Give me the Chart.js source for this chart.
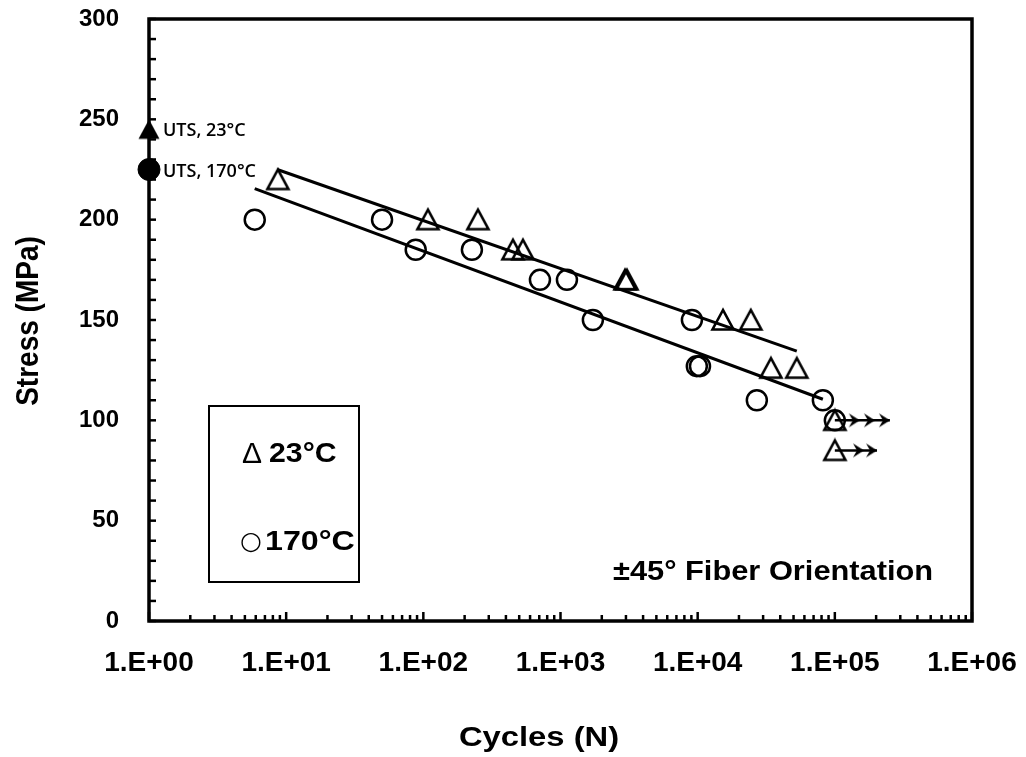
<!DOCTYPE html>
<html>
<head>
<meta charset="utf-8">
<script src="https://cdn.jsdelivr.net/npm/chart.js@4.4.1/dist/chart.umd.min.js"></script>
<style>
  body { margin: 0; background: #fff; }
  canvas { display: block; }
</style>
</head>
<body>
<canvas id="snChart" width="1026" height="757"></canvas>
<script>
// 23°C fatigue results (cycles to failure, stress in MPa)
const cycles23 = [8.7, 108, 250, 450, 532, 2950, 3050, 15300, 24400, 34200, 52800, 100000, 100000];
const stress23 = [220, 200, 200, 185, 185, 170, 170, 150, 150, 126, 126, 100, 85];

// 170°C fatigue results
const cycles170 = [5.9, 50, 88, 226, 708, 1114, 1722, 9080, 9860, 10400, 27000, 81800, 100000];
const stress170 = [200, 200, 185, 185, 170, 170, 150, 150, 127, 127, 110, 110, 100];

// trend line end points
const fitCycles23 = [8.6, 52800];
const fitStress23 = [225, 134.5];
const fitCycles170 = [5.9, 81800];
const fitStress170 = [215.5, 110.5];

// ultimate tensile strength, shown at N = 1
const utsCycles = [1, 1];
const utsStress = [245, 225];
const utsLabels = ['UTS, 23°C', 'UTS, 170°C'];

// run-outs (arrow line with arrowheads)
const runout100Cycles = [100000, 152000, 196000, 252000];
const runout100Stress = [100, 100, 100, 100];
const runout85Cycles = [100000, 163000, 203000];
const runout85Stress = [85, 85, 85];

const legendNames = ['23°C', '170°C'];
const noteText = '±45° Fiber Orientation';
const xTitle = 'Cycles (N)';
const yTitle = 'Stress (MPa)';

// x tick decades (10^0 .. 10^6) and y axis range
const xDecades = [0, 1, 2, 3, 4, 5, 6];
const yMin = 0, yMax = 300, yStep = 10, yLabelStep = 50;

const FONT = '"Liberation Sans", Arial, sans-serif';

// zip two arrays into {x, y} points
function toPoints(xs, ys) {
    return xs.map((x, i) => ({ x: x, y: ys[i] }));
}

// marker images, drawn so the box centre sits on the data point
function makeTriangle(filled) {
    const c = document.createElement('canvas');
    c.width = 26; c.height = 26;
    const g = c.getContext('2d');
    g.beginPath();
    g.moveTo(13, 3);
    g.lineTo(2.5, 22.5);
    g.lineTo(23.5, 22.5);
    g.closePath();
    if (filled) {
        g.fillStyle = '#000';
        g.fill();
    } else {
        g.lineWidth = 2.6;
        g.lineJoin = 'miter';
        g.strokeStyle = '#000';
        g.stroke();
    }
    return c;
}

function makeArrowHead() {
    const c = document.createElement('canvas');
    c.width = 24; c.height = 24;
    const g = c.getContext('2d');
    g.beginPath();
    g.moveTo(12, 12);
    g.lineTo(1, 5);
    g.lineTo(5, 12);
    g.lineTo(1, 19);
    g.closePath();
    g.fillStyle = '#000';
    g.fill();
    return c;
}

const openTriangle = makeTriangle(false);
const solidTriangle = makeTriangle(true);
const arrowHead = makeArrowHead();

// text drawn a little wider than the font, like the source figure
function wideText(ctx, txt, x, y, sx, rot) {
    ctx.save();
    ctx.translate(x, y);
    if (rot) ctx.rotate(rot);
    if (rot) ctx.scale(1, sx); else ctx.scale(sx, 1);
    ctx.fillText(txt, 0, 0);
    ctx.restore();
}

// frame, inward tick marks, axis titles and the free text on the chart
const decorPlugin = {
    id: 'decor',
    afterDraw(chart) {
        const { ctx, chartArea: a, scales: { x, y } } = chart;
        ctx.save();
        ctx.strokeStyle = '#000';
        ctx.fillStyle = '#000';

        ctx.lineWidth = 2.5;
        y.ticks.forEach(t => {
            const py = y.getPixelForValue(t.value);
            ctx.beginPath();
            ctx.moveTo(a.left, py);
            ctx.lineTo(a.left + 7, py);
            ctx.stroke();
        });
        x.ticks.forEach(t => {
            const px = x.getPixelForValue(t.value);
            const len = t.major ? 9 : 6;
            ctx.beginPath();
            ctx.moveTo(px, a.bottom);
            ctx.lineTo(px, a.bottom - len);
            ctx.stroke();
        });

        ctx.lineWidth = 3.5;
        ctx.strokeRect(a.left, a.top, a.right - a.left, a.bottom - a.top);

        // axis titles
        ctx.font = 'bold 28px ' + FONT;
        ctx.textAlign = 'center';
        ctx.textBaseline = 'middle';
        wideText(ctx, xTitle, 539, 738, 1.17, 0);
        wideText(ctx, yTitle, 29, 321, 1.15, -Math.PI / 2);

        // UTS labels next to the markers on the stress axis
        ctx.font = '600 18px "Open Sans", sans-serif';
        ctx.textAlign = 'left';
        utsLabels.forEach((txt, i) => {
            ctx.fillText(txt, x.getPixelForValue(utsCycles[i]) + 14, y.getPixelForValue(utsStress[i]) + 2);
        });

        // legend box
        ctx.lineWidth = 2;
        ctx.strokeRect(209, 406, 150, 176);
        ctx.font = '30px ' + FONT;
        ctx.fillText('Δ', 242, 455);
        ctx.font = '25px "DejaVu Sans", sans-serif';
        ctx.fillText('○', 240, 542);
        ctx.font = 'bold 28px ' + FONT;
        wideText(ctx, legendNames[0], 269, 454, 1.08, 0);
        wideText(ctx, legendNames[1], 265, 542, 1.15, 0);

        // fiber orientation note
        ctx.font = 'bold 28px ' + FONT;
        wideText(ctx, noteText, 613, 572, 1.1, 0);
        ctx.restore();
    }
};

const ctx = document.getElementById('snChart').getContext('2d');

const datasets = [
    {
        label: legendNames[0],
        data: toPoints(cycles23, stress23),
        pointStyle: openTriangle,
        pointRadius: 10,
        showLine: false
    },
    {
        label: legendNames[1],
        data: toPoints(cycles170, stress170),
        pointStyle: 'circle',
        pointRadius: 10,
        pointBorderWidth: 2.5,
        pointBorderColor: '#000',
        pointBackgroundColor: 'rgba(0,0,0,0)',
        showLine: false
    },
    {
        label: 'fit 23',
        data: toPoints(fitCycles23, fitStress23),
        borderColor: '#000',
        borderWidth: 3,
        pointRadius: 0,
        showLine: true
    },
    {
        label: 'fit 170',
        data: toPoints(fitCycles170, fitStress170),
        borderColor: '#000',
        borderWidth: 3,
        pointRadius: 0,
        showLine: true
    },
    {
        label: 'UTS',
        data: toPoints(utsCycles, utsStress),
        pointStyle: [solidTriangle, 'circle'],
        pointRadius: 11,
        pointBackgroundColor: '#000',
        pointBorderColor: '#000',
        showLine: false,
        clip: false
    },
    {
        label: 'runout 100',
        data: toPoints(runout100Cycles, runout100Stress),
        borderColor: '#000',
        borderWidth: 2.5,
        pointStyle: arrowHead,
        pointRadius: [0, 5, 5, 5],
        showLine: true
    },
    {
        label: 'runout 85',
        data: toPoints(runout85Cycles, runout85Stress),
        borderColor: '#000',
        borderWidth: 2.5,
        pointStyle: arrowHead,
        pointRadius: [0, 5, 5],
        showLine: true
    }
];

new Chart(ctx, {
    type: 'scatter',
    data: { datasets: datasets },
    options: {
        responsive: false,
        animation: false,
        devicePixelRatio: 1,
        layout: { padding: { top: 19, right: 54, left: 0, bottom: 0 } },
        plugins: {
            legend: { display: false },
            tooltip: { enabled: false }
        },
        scales: {
            x: {
                type: 'logarithmic',
                min: 1,
                max: 1e6,
                afterBuildTicks: scale => {
                    const ticks = [];
                    xDecades.forEach(d => {
                        for (let s = 1; s <= 9; s++) {
                            if (d === 6 && s > 1) break;
                            ticks.push({ value: s * Math.pow(10, d), major: s === 1 });
                        }
                    });
                    scale.ticks = ticks;
                },
                afterFit: scale => {
                    scale.height = 136;
                    scale.paddingLeft = 0;
                    scale.paddingRight = 0;
                },
                grid: { display: false, drawTicks: false },
                border: { display: false },
                ticks: {
                    autoSkip: false,
                    maxRotation: 0,
                    padding: 25,
                    color: '#000',
                    font: { family: FONT, size: 28, weight: 'bold' },
                    callback: (v, i, ticks) => {
                        if (!ticks[i].major) return '';
                        return '1.E+' + String(Math.round(Math.log10(v))).padStart(2, '0');
                    }
                },
                title: { display: false, text: xTitle }
            },
            y: {
                min: yMin,
                max: yMax,
                afterFit: scale => {
                    scale.width = 149;
                    scale.paddingTop = 0;
                    scale.paddingBottom = 0;
                },
                grid: { display: false, drawTicks: false },
                border: { display: false },
                ticks: {
                    stepSize: yStep,
                    autoSkip: false,
                    padding: 30,
                    color: '#000',
                    font: { family: FONT, size: 24, weight: 'bold' },
                    callback: v => (v % yLabelStep === 0 ? v : '')
                },
                title: { display: false, text: yTitle }
            }
        }
    },
    plugins: [decorPlugin]
});
</script>
</body>
</html>
